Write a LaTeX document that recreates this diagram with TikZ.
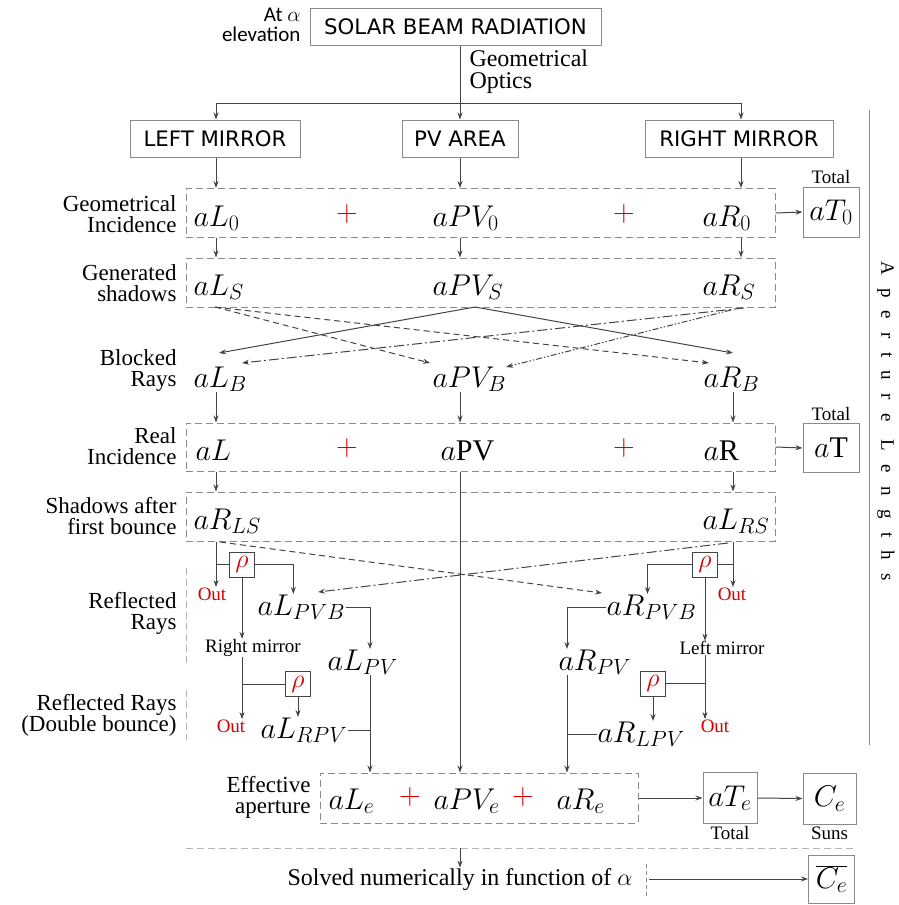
\RequirePackage{fix-cm}
\documentclass[tikz,border=0pt]{standalone}
\usepackage{fontspec}
\setmainfont{Liberation Serif}
\newfontfamily\boxfont{DejaVu Sans}
\newfontfamily\notefont{Carlito}
\DeclareMathSizes{30}{30}{22}{16}
\usetikzlibrary{arrows.meta, positioning}
\definecolor{cline}{HTML}{444444}
\definecolor{cgrey}{HTML}{8A8A8A}
\definecolor{clight}{HTML}{B4B4B4}
\definecolor{cred}{HTML}{D40000}
\tikzset{
  every picture/.style={line width=1pt},
  head/.style={draw=cgrey, fill=white, minimum height=37pt, inner xsep=8pt, font=\boxfont\fontsize{21.3}{23}\selectfont},
  row/.style={draw=cgrey, dash pattern=on 7pt off 4pt, inner sep=0pt},
  val/.style={anchor=base west, inner sep=0pt, font=\fontsize{30}{32}\selectfont},
  plus/.style={text=cred, inner sep=0pt, font=\fontsize{30}{30}\selectfont},
  total/.style={draw=cgrey, inner sep=0pt, font=\fontsize{30}{32}\selectfont},
  rho/.style={draw=cline, minimum size=25pt, inner sep=0pt, text=cred, font=\fontsize{26}{26}\selectfont},
  lab/.style={anchor=east, align=right, inner sep=0pt, font=\fontsize{23}{21}\selectfont},
  note/.style={inner sep=0pt, font=\fontsize{19}{19}\selectfont},
  outnote/.style={note, text=cred},
  arrow/.style={-{Stealth[length=7pt,width=5pt]}, draw=cline},
  wire/.style={draw=cline},
  dashline/.style={arrow, dash pattern=on 6pt off 4pt},
  dotline/.style={arrow, dash pattern=on 10pt off 3pt on 2pt off 3pt},
  dotdotline/.style={arrow, dash pattern=on 6pt off 2pt on 1.5pt off 2pt on 1.5pt off 2pt},
}

\begin{document}
\begin{tikzpicture}[x=1pt, y=1pt]
  \useasboundingbox (0,0) rectangle (899,-905);
  % columns
  \coordinate (cl) at (216,0);
  \coordinate (cc) at (460,0);
  \coordinate (cr) at (741,0);
  \coordinate (crb) at (733,0);
  \coordinate (cpl) at (370,0);
  \coordinate (cpr) at (567,0);

  % source and the three areas
  \node[head, minimum width=291pt] (sun) at (455.5,-26.5) {SOLAR BEAM RADIATION};
  \node[lab, font=\notefont\fontsize{21}{20}\selectfont] (elev) at (301,-25) {At $\alpha$\\elevation};
  \node[note, anchor=west, align=left, font=\fontsize{24}{22}\selectfont] (optics) at (469,-72) {Geometrical\\Optics};
  \node[head, minimum width=170pt] (LM) at (215,-138.5) {LEFT MIRROR};
  \node[head, minimum width=116pt] (PVA) at (460,-138.5) {PV AREA};
  \node[head, minimum width=188pt] (RM) at (739,-138.5) {RIGHT MIRROR};
  \coordinate (split) at (460,-103);
  \draw[arrow] (cc |- sun.south) -- (cc |- PVA.north);
  \draw[wire] (cl |- split) -- (cr |- split);
  \draw[arrow] (cl |- split) -- (cl |- LM.north);
  \draw[arrow] (cr |- split) -- (cr |- RM.north);

  % row boxes
  \node[row, minimum width=589pt, minimum height=49pt] (r1) at (480.5,-213) {};
  \node[row, minimum width=589pt, minimum height=49pt] (r2) at (480.5,-282.5) {};
  \node[row, minimum width=589pt, minimum height=48pt] (r4) at (480.5,-447) {};
  \node[row, minimum width=589pt, minimum height=49pt] (r5) at (480.5,-516.5) {};
  \node[row, minimum width=318pt, minimum height=50pt] (r7) at (479,-798) {};

  % left labels
  \node[lab] (lb1) at (177,-214) {Geometrical\\Incidence};
  \node[lab] (lb2) at (177,-283) {Generated\\shadows};
  \node[lab] (lb3) at (177,-370) {Blocked\\Rays};
  \node[lab] (lb4) at (177,-446) {Real\\Incidence};
  \node[lab] (lb5) at (177,-516) {Shadows after\\first bounce};
  \node[lab] (lb6) at (177,-613) {Reflected\\Rays};
  \node[lab] (lb7) at (177,-715) {Reflected Rays\\(Double bounce)};
  \node[lab] (lb8) at (311,-797) {Effective\\aperture};

  % geometrical incidence
  \node[val] (L0) at (193,-226) {$aL_0$};
  \node[val] (PV0) at (432,-226) {$aPV_0$};
  \node[val] (R0) at (702,-226) {$aR_0$};
  \node[plus] (p1) at (347,-214) {$+$};
  \node[plus] (p2) at (624,-214) {$+$};
  \node[total, minimum width=56pt, minimum height=50pt] (T0) at (831,-212) {$aT_0$};
  \node[note, above=2pt of T0] (tot0) {Total};

  % generated shadows
  \node[val] (LS) at (193,-295) {$aL_S$};
  \node[val] (PVS) at (432,-295) {$aPV_S$};
  \node[val] (RS) at (702,-295) {$aR_S$};

  % blocked rays
  \node[val] (LB) at (193,-387) {$aL_B$};
  \node[val] (PVB) at (432,-387) {$aPV_B$};
  \node[val] (RB) at (703,-387) {$aR_B$};

  % real incidence
  \node[val] (L) at (195,-460) {$aL$};
  \node[val] (PV) at (440,-460) {$a$PV};
  \node[val] (R) at (703,-460) {$a$R};
  \node[plus] (p3) at (347,-448) {$+$};
  \node[plus] (p4) at (624,-448) {$+$};
  \node[total, minimum width=56pt, minimum height=49pt] (T) at (831,-448) {$a$T};
  \node[note, above=2pt of T] (tot1) {Total};

  % shadows after first bounce
  \node[val] (RLS) at (193,-529) {$aR_{LS}$};
  \node[val] (LRS) at (702,-529) {$aL_{RS}$};

  % reflected rays
  \node[rho] (rho1) at (242,-564.5) {$\rho$};
  \node[rho] (rho2) at (705,-564.5) {$\rho$};
  \node[outnote] (out1) at (212,-594) {Out};
  \node[outnote] (out2) at (732,-594) {Out};
  \node[val] (LPVB) at (257,-615) {$aL_{PVB}$};
  \node[val] (RPVB) at (606,-615) {$aR_{PVB}$};
  \node[note] (rmir) at (253,-648) {Right mirror};
  \node[note] (lmir) at (722,-648) {Left mirror};
  \node[val] (LPV) at (327,-670) {$aL_{PV}$};
  \node[val] (RPV) at (558,-670) {$aR_{PV}$};

  % double bounce
  \node[rho] (rho3) at (298,-684) {$\rho$};
  \node[rho] (rho4) at (653,-683.5) {$\rho$};
  \node[outnote] (out3) at (231,-726) {Out};
  \node[outnote] (out4) at (715,-726) {Out};
  \node[val] (LRPV) at (260,-738) {$aL_{RPV}$};
  \node[val] (RLPV) at (597,-742) {$aR_{LPV}$};

  % effective aperture
  \node[val] (Le) at (328,-809) {$aL_e$};
  \node[plus] (p5) at (410,-797) {$+$};
  \node[val] (PVe) at (433,-809) {$aPV_e$};
  \node[plus] (p6) at (523,-797) {$+$};
  \node[val] (Re) at (556,-809) {$aR_e$};
  \node[total, minimum width=54pt, minimum height=51pt] (Te) at (730,-798) {$aT_e$};
  \node[total, minimum width=53pt, minimum height=51pt] (Ce) at (829.5,-798.5) {$C_e$};
  \node[note, below=2pt of Te] (tot2) {Total};
  \node[note, below=2pt of Ce] (suns) {Suns};

  % solved numerically
  \coordinate (sepL) at (186,-848);
  \coordinate (sepR) at (855,-848);
  \node[note, anchor=base west, font=\fontsize{24}{24}\selectfont] (solved) at (287,-885) {Solved numerically in function of $\alpha$};
  \coordinate (tickT) at (646,-864);
  \coordinate (tickB) at (646,-897);
  \node[total, minimum width=46pt, minimum height=48pt] (Cbar) at (831.5,-879) {$\overline{C_e}$};

  % side marks
  \coordinate (refT) at (186,-568);
  \coordinate (refB) at (186,-665);
  \coordinate (dblT) at (186,-690);
  \coordinate (dblB) at (186,-740);
  \coordinate (sideT) at (869,-110);
  \coordinate (sideB) at (869,-745);
  \node[rotate=-90, inner sep=0pt, font=\fontsize{19}{19}\selectfont\addfontfeature{LetterSpace=70}] (aplen) at (886,-421) {Aperture Lengths};

  % vertical flow
  \draw[arrow] (cl |- LM.south) -- (cl |- r1.north);
  \draw[arrow] (cc |- PVA.south) -- (cc |- r1.north);
  \draw[arrow] (cr |- RM.south) -- (cr |- r1.north);
  \foreach \c in {cl,cc,cr}
    \draw[arrow] (\c |- r1.south) -- (\c |- r2.north);
  \draw[arrow] (r1.east) -- (T0.west);
  \foreach \c in {cl,cc,crb}
    \draw[arrow] (\c |- LB.south) -- (\c |- r4.north);
  \draw[arrow] (r4.east) -- (T.west);
  \draw[arrow] (cl |- r4.south) -- (cl |- r5.north);
  \draw[arrow] (crb |- r4.south) -- (crb |- r5.north);
  \draw[arrow] (cc |- r4.south) -- (cc |- r7.north);

  % shadows crossing
  \coordinate (sPVS) at (475,-307);
  \coordinate (sLS) at (215,-307);
  \coordinate (sRS1) at (744,-308);
  \coordinate (sRS2) at (731,-310);
  \coordinate (eLB) at (219,-353);
  \coordinate (eLB2) at (242,-363);
  \coordinate (ePVB) at (430,-363);
  \coordinate (ePVB2) at (506,-367);
  \coordinate (eRB) at (733,-353);
  \coordinate (eRB2) at (709,-363);
  \draw[arrow] (sPVS) -- (eLB);
  \draw[arrow] (sPVS) -- (eRB);
  \draw[dashline] (sLS) -- (ePVB);
  \draw[dashline] (sLS) -- (eRB2);
  \draw[dotline] (sRS1) -- (eLB2);
  \draw[dotdotline] (sRS2) -- (ePVB2);

  % first bounce, left
  \draw[arrow] (cl |- r5.south) -- (cl |- out1.north);
  \draw[wire] (cl |- rho1.west) -- (rho1.west);
  \draw[arrow] (rho1.east) -| ([xshift=-8pt]LPVB.north);
  \draw[arrow] (rho1.south) -- (rho1.south |- rmir.north);
  \draw[arrow] (LPVB.east) -| (cpl |- LPV.north);
  \draw[arrow] (cpl |- LPV.south) -- (cpl |- r7.north);
  \draw[arrow] (rho1.south |- rmir.south) -- (rho1.south |- out3.north);
  \draw[wire] (rho1.south |- rho3.west) -- (rho3.west);
  \draw[arrow] (rho3.south) -- (rho3.south |- LRPV.north);
  \draw[wire] (LRPV.east) -- (cpl |- LRPV.east);

  % first bounce, right
  \draw[arrow] (crb |- r5.south) -- (crb |- out2.north);
  \draw[wire] (crb |- rho2.east) -- (rho2.east);
  \draw[arrow] (rho2.west) -| ([xshift=-4pt]RPVB.north);
  \draw[arrow] (rho2.south) -- (rho2.south |- lmir.north);
  \draw[arrow] (RPVB.west) -| (cpr |- RPV.north);
  \draw[arrow] (cpr |- RPV.south) -- (cpr |- r7.north);
  \draw[arrow] (rho2.south |- lmir.south) -- (rho2.south |- out4.north);
  \draw[wire] (rho2.south |- rho4.east) -- (rho4.east);
  \draw[arrow] (rho4.south) -- (rho4.south |- RLPV.north);
  \draw[wire] (RLPV.west) -- (cpr |- RLPV.west);

  % shadows after first bounce crossing
  \coordinate (sRLS) at (220,-542);
  \coordinate (sLRS) at (728,-543);
  \coordinate (eRPVB) at (602,-593);
  \coordinate (eLPVB) at (318,-592);
  \draw[dashline] (sRLS) -- (eRPVB);
  \draw[dotline] (sLRS) -- (eLPVB);

  % totals
  \draw[arrow] (r7.east) -- (Te.west);
  \draw[arrow] (Te.east) -- (Ce.west);
  \draw[clight, dash pattern=on 7pt off 4pt] (sepL) -- (sepR);
  \draw[arrow] (cc |- sepL) -- (cc |- solved.north);
  \draw[cgrey, dash pattern=on 4pt off 3pt] (tickT) -- (tickB);
  \draw[arrow] ([xshift=3pt]tickT |- Cbar.west) -- (Cbar.west);

  % side marks
  \draw[clight, dash pattern=on 7pt off 4pt] (refT) -- (refB);
  \draw[clight, dash pattern=on 7pt off 4pt] (dblT) -- (dblB);
  \draw[cgrey] (sideT) -- (sideB);
\end{tikzpicture}
\end{document}
